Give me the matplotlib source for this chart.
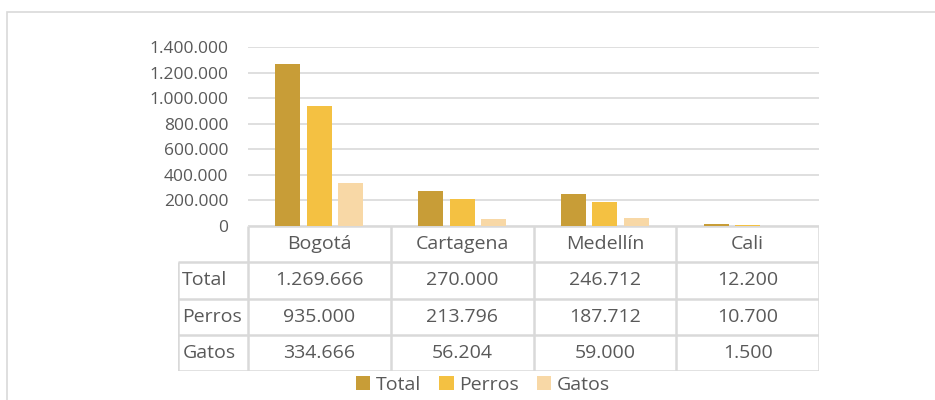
import matplotlib.pyplot as plt
from matplotlib.patches import Rectangle
import numpy as np

# data
ciudades = ['Bogotá', 'Cartagena', 'Medellín', 'Cali']
series = ['Total', 'Perros', 'Gatos']
total = [1269666, 270000, 246712, 12200]
perros = [935000, 213796, 187712, 10700]
gatos = [334666, 56204, 59000, 1500]
yticks = [0, 200000, 400000, 600000, 800000, 1000000, 1200000, 1400000]

colores = ['#C89D37', '#F4C142', '#F8D8A6']
gris = '#595959'
linea = '#D9D9D9'

plt.rcParams['font.family'] = ['Open Sans', 'DejaVu Sans']


def fmt(v):
    return f'{v:,.0f}'.replace(',', '.')


W, H = 935, 400
fig = plt.figure(figsize=(W / 100, H / 100), dpi=100)

# chart border (extends past the crop on right and bottom)
fig.patches.append(Rectangle((7 / W, -0.05), 1.1, 1 - 12 / H + 0.05,
                             transform=fig.transFigure, fill=False,
                             edgecolor=linea, lw=1.2))

# bar area
x0, x1 = 248, 819
y0, y1 = 226, 47
ax = fig.add_axes([x0 / W, 1 - y0 / H, (x1 - x0) / W, (y0 - y1) / H])
x = np.arange(len(ciudades))
off = 0.22
bw = 0.175
for i, vals in enumerate([total, perros, gatos]):
    ax.bar(x + (i - 1) * off, vals, bw, color=colores[i], label=series[i], zorder=3)
ax.set_xlim(-0.5, 3.5)
ax.set_ylim(0, 1400000)
ax.set_yticks(yticks)
ax.set_yticklabels([fmt(v) for v in yticks])
ax.set_xticks([])
ax.grid(axis='y', color=linea, lw=1.2, zorder=0)
for s in ax.spines.values():
    s.set_visible(False)
ax.tick_params(axis='y', length=0, pad=14, labelsize=12.5, labelcolor=gris)

# data table
lbl_w = (x0 - 178) / (x1 - x0) * 4
tb_top, tb_bot = 226, 371
tax = fig.add_axes([178 / W, 1 - tb_bot / H, (x1 - 178) / W, (tb_bot - tb_top) / H])
tax.set_xlim(-0.5 - lbl_w, 3.5)
tax.set_ylim(4, 0)
tax.axis('off')
tlw = 1.8
# header row
tax.hlines(0, -0.5, 3.5, color=linea, lw=tlw)
for k in range(5):
    tax.vlines(k - 0.5, 0, 4, color=linea, lw=tlw)
tax.vlines(-0.5 - lbl_w, 1, 4, color=linea, lw=tlw)
for r in range(1, 5):
    tax.hlines(r, -0.5 - lbl_w, 3.5, color=linea, lw=tlw)
for j, c in enumerate(ciudades):
    tax.text(j, 0.5, c, ha='center', va='center', fontsize=14, color=gris)
for r, (name, vals) in enumerate(zip(series, [total, perros, gatos])):
    tax.text(-0.5 - lbl_w + 0.03, r + 1.5, name, ha='left', va='center',
             fontsize=14, color=gris)
    for j, v in enumerate(vals):
        tax.text(j, r + 1.5, fmt(v), ha='center', va='center', fontsize=14, color=gris)

# legend
handles, labels = ax.get_legend_handles_labels()
fig.legend(handles, labels, loc='center', bbox_to_anchor=(483 / W, 1 - 385 / H),
           ncol=3, frameon=False, fontsize=14, labelcolor=gris,
           handlelength=0.75, handleheight=0.75, handletextpad=0.3,
           columnspacing=0.9, borderpad=0)

fig.savefig('out.png', dpi=100)
